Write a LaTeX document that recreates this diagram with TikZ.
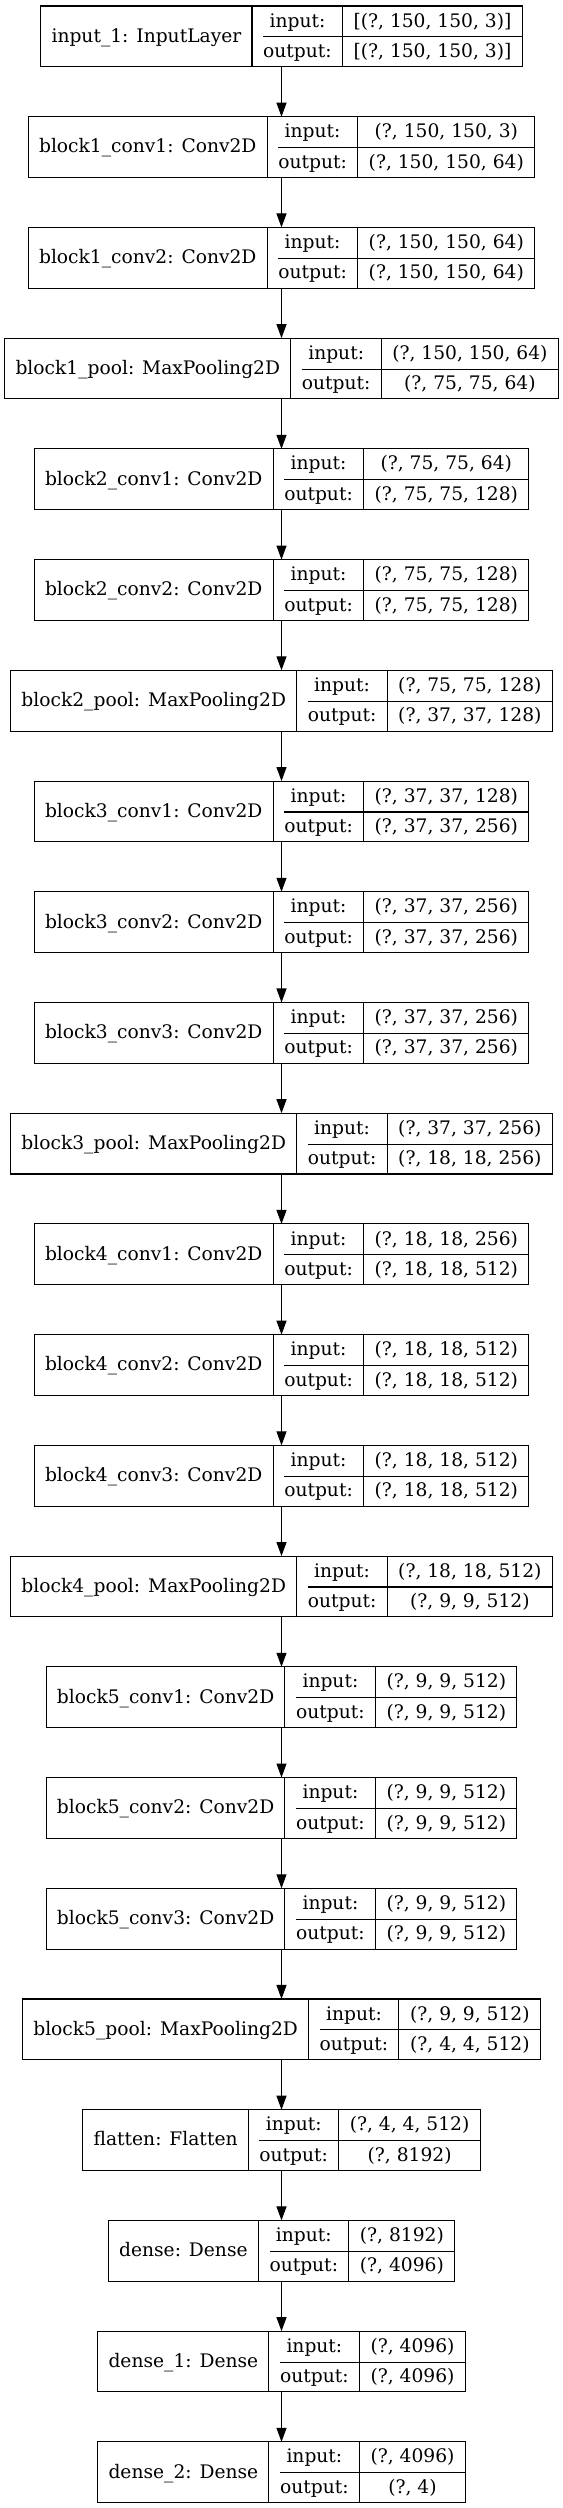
\documentclass[tikz,border=0pt]{standalone}
\usepackage{fontspec}
\setmainfont{DejaVu Serif}
\usepackage{tikz}
\usetikzlibrary{arrows.meta, positioning}
\definecolor{linegray}{RGB}{0, 0, 0}
\setlength{\arrayrulewidth}{0.8pt}
\newcommand{\rowstrut}{\rule[-7pt]{0pt}{22.8pt}}
\newcommand{\layerrec}[3]{%
  \begin{tabular}{@{\hspace{8pt}}c@{\hspace{8pt}}|@{\hspace{8pt}}c@{\hspace{8pt}}|@{\hspace{8pt}}c@{\hspace{8pt}}}
    \raisebox{-11.4pt}[0pt][0pt]{#1} & input:\rowstrut & #2 \\ \cline{2-3}
    & output:\rowstrut & #3
  \end{tabular}}

\begin{document}
\begin{tikzpicture}[
    node distance=37.44pt,
    layer/.style={draw=linegray, line width=0.8pt, inner sep=0pt, outer sep=0pt, font=\fontsize{14pt}{17pt}\selectfont},
    arrow/.style={-{Triangle[length=10.5pt, width=7.5pt]}, line width=0.8pt, linegray}
]
    \useasboundingbox (-211.125pt, 27.3pt) rectangle (211.125pt, -1853.7pt);

    % Nodes - input and block 1
    \node[layer] (input1) {\layerrec{input\_1: InputLayer}{[(?, 150, 150, 3)]}{[(?, 150, 150, 3)]}};
    \node[layer, below=of input1] (b1conv1) {\layerrec{block1\_conv1: Conv2D}{(?, 150, 150, 3)}{(?, 150, 150, 64)}};
    \node[layer, below=of b1conv1] (b1conv2) {\layerrec{block1\_conv2: Conv2D}{(?, 150, 150, 64)}{(?, 150, 150, 64)}};
    \node[layer, below=of b1conv2] (b1pool) {\layerrec{block1\_pool: MaxPooling2D}{(?, 150, 150, 64)}{(?, 75, 75, 64)}};

    % Nodes - block 2
    \node[layer, below=of b1pool] (b2conv1) {\layerrec{block2\_conv1: Conv2D}{(?, 75, 75, 64)}{(?, 75, 75, 128)}};
    \node[layer, below=of b2conv1] (b2conv2) {\layerrec{block2\_conv2: Conv2D}{(?, 75, 75, 128)}{(?, 75, 75, 128)}};
    \node[layer, below=of b2conv2] (b2pool) {\layerrec{block2\_pool: MaxPooling2D}{(?, 75, 75, 128)}{(?, 37, 37, 128)}};

    % Nodes - block 3
    \node[layer, below=of b2pool] (b3conv1) {\layerrec{block3\_conv1: Conv2D}{(?, 37, 37, 128)}{(?, 37, 37, 256)}};
    \node[layer, below=of b3conv1] (b3conv2) {\layerrec{block3\_conv2: Conv2D}{(?, 37, 37, 256)}{(?, 37, 37, 256)}};
    \node[layer, below=of b3conv2] (b3conv3) {\layerrec{block3\_conv3: Conv2D}{(?, 37, 37, 256)}{(?, 37, 37, 256)}};
    \node[layer, below=of b3conv3] (b3pool) {\layerrec{block3\_pool: MaxPooling2D}{(?, 37, 37, 256)}{(?, 18, 18, 256)}};

    % Nodes - block 4
    \node[layer, below=of b3pool] (b4conv1) {\layerrec{block4\_conv1: Conv2D}{(?, 18, 18, 256)}{(?, 18, 18, 512)}};
    \node[layer, below=of b4conv1] (b4conv2) {\layerrec{block4\_conv2: Conv2D}{(?, 18, 18, 512)}{(?, 18, 18, 512)}};
    \node[layer, below=of b4conv2] (b4conv3) {\layerrec{block4\_conv3: Conv2D}{(?, 18, 18, 512)}{(?, 18, 18, 512)}};
    \node[layer, below=of b4conv3] (b4pool) {\layerrec{block4\_pool: MaxPooling2D}{(?, 18, 18, 512)}{(?, 9, 9, 512)}};

    % Nodes - block 5
    \node[layer, below=of b4pool] (b5conv1) {\layerrec{block5\_conv1: Conv2D}{(?, 9, 9, 512)}{(?, 9, 9, 512)}};
    \node[layer, below=of b5conv1] (b5conv2) {\layerrec{block5\_conv2: Conv2D}{(?, 9, 9, 512)}{(?, 9, 9, 512)}};
    \node[layer, below=of b5conv2] (b5conv3) {\layerrec{block5\_conv3: Conv2D}{(?, 9, 9, 512)}{(?, 9, 9, 512)}};
    \node[layer, below=of b5conv3] (b5pool) {\layerrec{block5\_pool: MaxPooling2D}{(?, 9, 9, 512)}{(?, 4, 4, 512)}};

    % Nodes - classifier head
    \node[layer, below=of b5pool] (flatten) {\layerrec{flatten: Flatten}{(?, 4, 4, 512)}{(?, 8192)}};
    \node[layer, below=of flatten] (dense) {\layerrec{dense: Dense}{(?, 8192)}{(?, 4096)}};
    \node[layer, below=of dense] (dense1) {\layerrec{dense\_1: Dense}{(?, 4096)}{(?, 4096)}};
    \node[layer, below=of dense1] (dense2) {\layerrec{dense\_2: Dense}{(?, 4096)}{(?, 4)}};

    % Arrows
    \draw[arrow] (input1) -- (b1conv1);
    \draw[arrow] (b1conv1) -- (b1conv2);
    \draw[arrow] (b1conv2) -- (b1pool);
    \draw[arrow] (b1pool) -- (b2conv1);
    \draw[arrow] (b2conv1) -- (b2conv2);
    \draw[arrow] (b2conv2) -- (b2pool);
    \draw[arrow] (b2pool) -- (b3conv1);
    \draw[arrow] (b3conv1) -- (b3conv2);
    \draw[arrow] (b3conv2) -- (b3conv3);
    \draw[arrow] (b3conv3) -- (b3pool);
    \draw[arrow] (b3pool) -- (b4conv1);
    \draw[arrow] (b4conv1) -- (b4conv2);
    \draw[arrow] (b4conv2) -- (b4conv3);
    \draw[arrow] (b4conv3) -- (b4pool);
    \draw[arrow] (b4pool) -- (b5conv1);
    \draw[arrow] (b5conv1) -- (b5conv2);
    \draw[arrow] (b5conv2) -- (b5conv3);
    \draw[arrow] (b5conv3) -- (b5pool);
    \draw[arrow] (b5pool) -- (flatten);
    \draw[arrow] (flatten) -- (dense);
    \draw[arrow] (dense) -- (dense1);
    \draw[arrow] (dense1) -- (dense2);
\end{tikzpicture}
\end{document}
